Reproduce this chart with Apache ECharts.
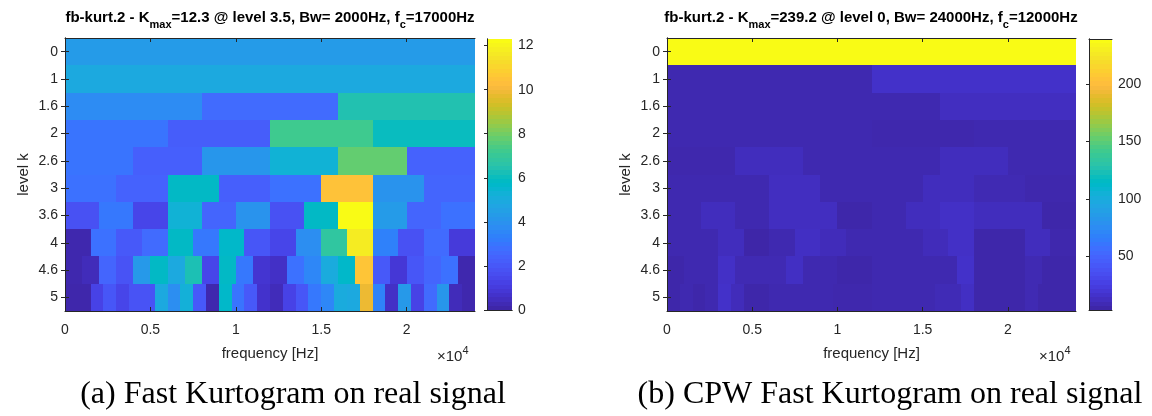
<!DOCTYPE html>
<html>
<head>
<meta charset="utf-8">
<script src="https://cdn.jsdelivr.net/npm/echarts@6/dist/echarts.min.js"></script>
<style>
  html, body { margin: 0; padding: 0; background: #ffffff; }
  #chart { width: 1152px; height: 416px; }
</style>
</head>
<body>
<div id="chart"></div>
<script>
// Decomposition levels (rows, top to bottom) and frequency span
const levelLabels = ['0', '1', '1.6', '2', '2.6', '3', '3.6', '4', '4.6', '5'];
const freqMax = 24000;
const freqTicks = [0, 5000, 10000, 15000, 20000];

// Fast kurtogram: spectral kurtosis per band, one row per level
const fastK = [
  [4.3],
  [4.9, 4.9],
  [3.7, 2.6, 6.4],
  [2.9, 2.1, 7.2, 6.0],
  [2.9, 2.2, 4.1, 5.3, 7.8, 2.3],
  [2.8, 2.3, 5.8, 2.2, 2.8, 10.5, 4.0, 2.4],
  [1.7, 3.0, 1.3, 5.3, 2.4, 4.0, 1.7, 5.8, 12.3, 4.3, 2.4, 2.8],
  [0.1, 2.8, 2.0, 2.6, 5.8, 3.0, 5.7, 1.9, 1.3, 3.8, 6.8, 11.8, 3.3, 1.7, 2.6, 0.9],
  [0.1, 0.3, 2.4, 1.8, 4.2, 5.8, 4.9, 6.3, 1.3, 5.8, 3.0, 0.7,
   0.5, 2.8, 3.5, 5.0, 5.7, 10.6, 2.0, 0.8, 1.9, 2.4, 2.8, 0.1],
  [0.05, 0.05, 1.2, 1.9, 1.3, 1.8, 1.8, 4.9, 3.8, 5.2, 2.0, 0.1, 5.7, 2.9, 2.0, 0.6,
   0.3, 1.2, 1.9, 3.0, 3.5, 5.0, 4.9, 9.9, 3.4, 0.5, 4.2, 1.2, 2.6, 4.1, 0.3, 0.1]
];

// CPW fast kurtogram: same layout
const cpwK = [
  [239.2],
  [6, 14],
  [6, 6, 11],
  [6, 6, 5, 6],
  [5, 10, 6, 6, 10, 6],
  [6, 6, 11, 6, 6, 10, 7, 5],
  [6, 10, 6, 11, 11, 4, 6, 10, 13, 10, 10, 4],
  [6, 6, 10, 3, 6, 12, 9, 6, 6, 6, 9, 13, 4, 4, 10, 5],
  [4, 6, 6, 13, 7, 7, 7, 12, 6, 6, 4, 4, 6, 6, 6, 6, 6, 14, 4, 4, 4, 7, 4, 4],
  [4, 6, 4, 6, 14, 9, 4, 4, 6, 6, 6, 6, 6, 5, 5, 5,
   6, 6, 6, 6, 6, 8, 8, 12, 4, 4, 4, 4, 7, 4, 4, 4]
];

// Colour scale limits and colourbar tick labels
const fastRange = [0, 12.3];
const cpwRange = [3.5, 239.2];
const fastBarTicks = [0, 2, 4, 6, 8, 10, 12];
const cpwBarTicks = [50, 100, 150, 200];

// parula colormap, 64 entries
const parula = [
  '#3e26a8', '#402ab4', '#422ec0', '#4332cb', '#4537d5', '#463cde', '#4741e5', '#4747eb',
  '#484df0', '#4852f4', '#4758f8', '#465efb', '#4563fd', '#4269fe', '#3e6fff', '#3875fe',
  '#327cfc', '#2f81fa', '#2e87f7', '#2d8cf3', '#2b91ef', '#2796eb', '#259be8', '#23a0e5',
  '#20a5e3', '#1ca9df', '#18addb', '#12b1d6', '#08b5d0', '#01b8ca', '#02bac3', '#0bbdbd',
  '#19bfb6', '#24c1ae', '#2cc4a7', '#31c69f', '#37c897', '#3fca8e', '#4acb84', '#57cc7a',
  '#64cd6f', '#72cd64', '#81cc59', '#8fcb4e', '#9dc943', '#abc739', '#b9c431', '#c5c22a',
  '#d1bf27', '#dcbd29', '#e6bb2d', '#f0ba36', '#f8ba3d', '#febe3c', '#fec338', '#fec934',
  '#fccf30', '#fad62d', '#f7dc2a', '#f5e327', '#f5e924', '#f6ef20', '#f7f51b', '#f9fb15'
];

const AXIS_COLOR = '#262626';
const FONT = '"Liberation Sans", Arial, Helvetica, sans-serif';

// Each band of a level row becomes [fStart, fEnd, rowIndex, kurtosis]
function bandCells(rows) {
  const cells = [];
  rows.forEach((row, r) => {
    const bw = freqMax / row.length;
    row.forEach((v, i) => cells.push([i * bw, (i + 1) * bw, r, v]));
  });
  return cells;
}

// snap to whole pixels so neighbouring cells share edges exactly
const snap = v => Math.round(v + 1e-6);

function renderCell(params, api) {
  const a = api.coord([api.value(0), api.value(2)]);
  const b = api.coord([api.value(1), api.value(2)]);
  const h = api.size([0, 1])[1];
  const x0 = snap(a[0]), x1 = snap(b[0]);
  const y0 = snap(a[1] - h / 2), y1 = snap(a[1] + h / 2);
  return {
    type: 'rect',
    shape: { x: x0, y: y0, width: x1 - x0, height: y1 - y0 },
    style: { fill: api.visual('color') }
  };
}

// Stepped gradient so the colourbar shows the 64 discrete colours
const barStops = [];
parula.forEach((c, i) => {
  barStops.push({ offset: i / parula.length, color: c });
  barStops.push({ offset: (i + 1) / parula.length, color: c });
});

function renderBar(params, api) {
  const a = api.coord([0, api.value(1)]);
  const b = api.coord([1, api.value(2)]);
  return {
    type: 'rect',
    shape: { x: a[0], y: b[1], width: b[0] - a[0], height: a[1] - b[1] },
    style: {
      fill: { type: 'linear', x: 0, y: 1, x2: 0, y2: 0, colorStops: barStops }
    }
  };
}

const grids = [
  { left: 65, top: 38, width: 410, height: 273 },
  { left: 667, top: 38, width: 409, height: 273 },
  { left: 487, top: 39, width: 25, height: 271 },
  { left: 1089, top: 39, width: 23, height: 271 }
];

const lineStyle = { color: AXIS_COLOR, width: 1 };

function freqAxis(gridIndex, position) {
  const bottom = position === 'bottom';
  return {
    type: 'value', gridIndex, position, min: 0, max: freqMax, z: 5,
    axisLine: { show: true, lineStyle },
    splitLine: { show: false },
    axisTick: { show: true, inside: true, length: 4, lineStyle, customValues: freqTicks },
    axisLabel: {
      show: bottom, customValues: freqTicks, margin: 12,
      color: AXIS_COLOR, fontFamily: FONT, fontSize: 14,
      formatter: v => String(v / 10000)
    },
    name: bottom ? 'frequency [Hz]' : '',
    nameLocation: 'middle', nameGap: 35,
    nameTextStyle: { color: AXIS_COLOR, fontFamily: FONT, fontSize: 15 }
  };
}

function levelAxis(gridIndex, position) {
  const left = position === 'left';
  return {
    type: 'category', gridIndex, position, data: levelLabels, inverse: true, z: 5,
    axisLine: { show: true, lineStyle },
    splitLine: { show: false },
    axisTick: { show: true, inside: true, length: 4, alignWithLabel: true, lineStyle },
    axisLabel: { show: left, margin: 7, color: AXIS_COLOR, fontFamily: FONT, fontSize: 14 },
    name: left ? 'level k' : '',
    nameLocation: 'middle', nameGap: 34,
    nameTextStyle: { color: AXIS_COLOR, fontFamily: FONT, fontSize: 15 }
  };
}

function barFrameX(gridIndex, position) {
  return {
    type: 'value', gridIndex, position, min: 0, max: 1, z: 5,
    axisLine: { show: true, lineStyle },
    axisTick: { show: false }, axisLabel: { show: false }, splitLine: { show: false }
  };
}

function barAxis(gridIndex, position, range, ticks) {
  const right = position === 'right';
  return {
    type: 'value', gridIndex, position, min: range[0], max: range[1], z: 5,
    axisLine: { show: true, lineStyle },
    splitLine: { show: false },
    axisTick: { show: right, inside: true, length: 3, lineStyle, customValues: ticks },
    axisLabel: {
      show: right, customValues: ticks, margin: 6,
      color: AXIS_COLOR, fontFamily: FONT, fontSize: 14
    }
  };
}

// Title with subscripts: the tall line box lets the small tokens sit low
function titleText(x, text) {
  return {
    type: 'text', x, y: 18, z: 10,
    style: {
      text, align: 'center', verticalAlign: 'middle',
      font: 'bold 15px ' + FONT, fill: '#000000', lineHeight: 24,
      rich: {
        sub: { font: 'bold 11px ' + FONT, fill: '#000000', verticalAlign: 'bottom', lineHeight: 11 }
      }
    }
  };
}

function exponentText(x) {
  return {
    type: 'text', x, y: 357, z: 10,
    style: {
      text: '\u00d710{sup|4}', align: 'left', verticalAlign: 'middle',
      font: '15px ' + FONT, fill: AXIS_COLOR, lineHeight: 24,
      rich: {
        sup: { font: '11px ' + FONT, fill: AXIS_COLOR, verticalAlign: 'top', lineHeight: 12 }
      }
    }
  };
}

function captionText(x, text) {
  return {
    type: 'text', x, y: 395, z: 10,
    style: {
      text, align: 'center', verticalAlign: 'middle',
      font: '32px "Liberation Serif", "DejaVu Serif", serif', fill: '#000000'
    }
  };
}

const option = {
  animation: false,
  backgroundColor: '#ffffff',
  grid: grids,
  xAxis: [
    freqAxis(0, 'bottom'), freqAxis(0, 'top'),
    freqAxis(1, 'bottom'), freqAxis(1, 'top'),
    barFrameX(2, 'bottom'), barFrameX(2, 'top'),
    barFrameX(3, 'bottom'), barFrameX(3, 'top')
  ],
  yAxis: [
    levelAxis(0, 'left'), levelAxis(0, 'right'),
    levelAxis(1, 'left'), levelAxis(1, 'right'),
    barAxis(2, 'left', fastRange, fastBarTicks), barAxis(2, 'right', fastRange, fastBarTicks),
    barAxis(3, 'left', cpwRange, cpwBarTicks), barAxis(3, 'right', cpwRange, cpwBarTicks)
  ],
  visualMap: [
    { type: 'continuous', show: false, seriesIndex: 0, dimension: 3,
      min: fastRange[0], max: fastRange[1], inRange: { color: parula } },
    { type: 'continuous', show: false, seriesIndex: 1, dimension: 3,
      min: cpwRange[0], max: cpwRange[1], inRange: { color: parula } }
  ],
  series: [
    { type: 'custom', name: 'Fast Kurtogram', xAxisIndex: 0, yAxisIndex: 0,
      renderItem: renderCell, encode: { x: [0, 1], y: 2 }, data: bandCells(fastK) },
    { type: 'custom', name: 'CPW Fast Kurtogram', xAxisIndex: 2, yAxisIndex: 2,
      renderItem: renderCell, encode: { x: [0, 1], y: 2 }, data: bandCells(cpwK) },
    { type: 'custom', xAxisIndex: 4, yAxisIndex: 5, renderItem: renderBar,
      encode: { y: [1, 2] }, data: [[0, fastRange[0], fastRange[1]]] },
    { type: 'custom', xAxisIndex: 6, yAxisIndex: 7, renderItem: renderBar,
      encode: { y: [1, 2] }, data: [[0, cpwRange[0], cpwRange[1]]] }
  ],
  graphic: [
    titleText(270, 'fb-kurt.2 - K{sub|max}=12.3 @ level 3.5, Bw= 2000Hz, f{sub|c}=17000Hz'),
    titleText(871, 'fb-kurt.2 - K{sub|max}=239.2 @ level 0, Bw= 24000Hz, f{sub|c}=12000Hz'),
    exponentText(437),
    exponentText(1039),
    captionText(293, '(a) Fast Kurtogram on real signal'),
    captionText(890, '(b) CPW Fast Kurtogram on real signal')
  ]
};

const chart = echarts.init(document.getElementById('chart'), null, { renderer: 'canvas' });
chart.setOption(option);
</script>
</body>
</html>
